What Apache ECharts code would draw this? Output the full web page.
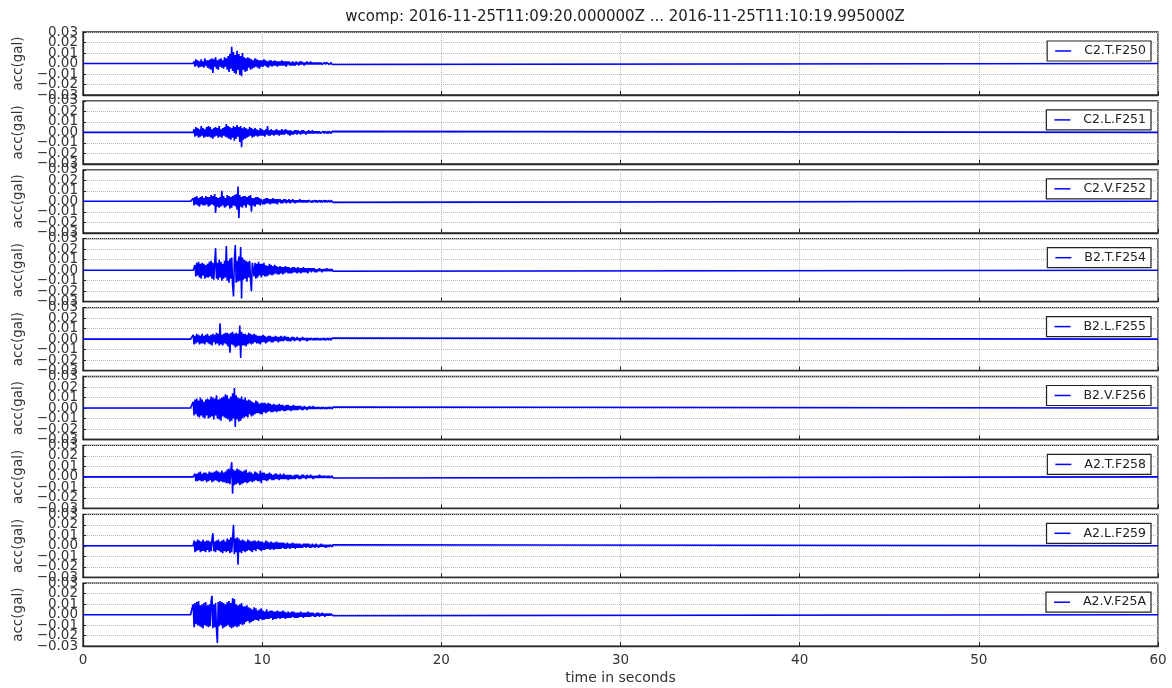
<!DOCTYPE html>
<html>
<head>
<meta charset="utf-8">
<title>wcomp</title>
<script src="https://cdn.jsdelivr.net/npm/echarts@6/dist/echarts.min.js"></script>
<style>
  html, body { margin: 0; padding: 0; background: #fff; }
  #chart { width: 1172px; height: 688px; }
</style>
</head>
<body>
<div id="chart"></div>
<script>
// Station / component labels, one per panel
const channels = ['C2.T.F250', 'C2.L.F251', 'C2.V.F252', 'B2.T.F254', 'B2.L.F255',
                  'B2.V.F256', 'A2.T.F258', 'A2.L.F259', 'A2.V.F25A'];

// Sampled acceleration in 1e-3 gal, sample interval 0.05 s, starting at 6.00 s.
// Before the first sample and after the last one the trace stays at rest.
const sampleStart = 6.0;
const sampleStep = 0.05;
const recordEnd = 60;

const C2_T_F250 = [
  0,0,0,0,2,-3,4,-2,3,-4,2,-3,4,-3,2,-4,5,-2,3,-4,
  3,-5,4,-6,5,-9,4,-3,6,-5,3,-6,4,-3,5,-4,3,-5,6,-3,
  5,-6,7,-8,9,-5,16,-7,11,-9,8,-10,12,-6,9,-11,7,-12,10,-6,
  6,-8,5,-7,6,-4,5,-6,4,-5,3,-4,5,-3,4,-4,3,-5,3,-3,
  3,-3,4,-2,3,-3,2,-4,3,-2,3,-3,2,-2,3,-2,2,-3,2,-2,
  2,-2,3,-2,2,-2,2,-3,2,-1,2,-2,1,-2,2,-2,1,-2,2,-1,
  1,-2,2,-1,2,-1,1,-2,1,-1,2,-1,1,-1,2,-1,1,-1,1,-1,
  1,-1,1,-1,1,-1,1,-1,0,-1,1,-1,1,0,1,-1,0,1,-1,0
];
const C2_L_F251 = [
  0,0,0,0,3,-4,5,-3,4,-5,3,-4,6,-3,4,-5,3,-4,5,-4,
  6,-4,5,-5,3,-6,4,-4,5,-3,4,-5,6,-4,3,-5,4,-3,5,-4,
  8,-5,6,-6,5,-7,4,-5,6,-8,5,-6,7,-4,5,-9,6,-14,4,-7,
  5,-6,4,-5,3,-4,5,-3,4,-5,3,-4,4,-3,3,-4,2,-3,4,-3,
  3,-3,2,-4,3,-2,6,-3,2,-3,3,-2,2,-3,2,-2,3,-2,2,-3,
  2,-2,3,-2,2,-2,3,-1,2,-2,2,-3,2,-2,1,-2,2,-1,2,-2,
  2,-1,1,-2,2,-1,2,-1,1,-2,1,-1,2,-1,1,-1,2,-1,1,-1,
  1,-1,1,-1,1,-1,0,-1,1,-1,1,0,-1,1,-1,1,0,-1,1,0
];
const C2_V_F252 = [
  0,0,0,3,-4,4,-3,5,-4,3,-5,4,-3,5,-4,3,-4,5,-3,4,
  -5,4,-4,6,-3,5,-4,7,-11,4,-5,3,-6,4,-5,10,-4,5,-6,3,
  -5,6,-4,5,-7,4,-6,5,-4,6,-5,7,-8,14,-16,6,-5,4,-6,5,
  -4,5,-6,4,-3,5,-4,6,-10,3,-4,3,-5,4,-3,4,-3,3,-4,2,
  3,-3,2,-3,3,-2,3,-2,2,-3,2,-2,3,-2,2,-2,2,-3,2,-1,
  2,-2,1,-2,2,-1,2,-2,1,-1,2,-2,1,-1,2,-1,1,-2,1,-1,
  1,-1,2,-1,1,-1,1,-1,1,-1,1,-1,1,0,1,-1,1,-1,0,1,
  -1,1,-1,0,1,-1,1,-1,0,1,-1,1,0,-1,1,0,-1,1,0,-1
];
const B2_T_F254 = [
  0,0,0,0,0,5,-6,7,-5,8,-7,6,-8,7,-5,6,-8,5,-7,6,
  -7,8,-6,9,-8,7,-9,6,21,-8,7,-9,10,-7,8,-10,6,-8,9,-7,
  23,-10,9,-12,11,-8,12,-14,-25,10,24,-12,9,-11,13,-10,22,-27,12,-9,
  10,-8,9,-11,8,-7,9,-8,-20,7,8,-6,7,-8,6,-7,8,-5,6,-7,
  6,-5,7,-6,5,-6,4,-5,6,-4,5,-5,4,-4,5,-3,4,-4,3,-4,
  4,-3,3,-4,3,-3,4,-2,3,-3,3,-3,2,-3,3,-2,3,-2,2,-3,
  3,-2,2,-3,2,-2,3,-2,2,-2,2,-3,2,-1,2,-2,2,-1,2,-2,
  1,-2,1,-1,2,-1,1,-2,1,-1,1,-1,2,-1,1,-1,1,-1,1,-1
];
const B2_L_F255 = [
  0,0,0,4,-5,3,-4,5,-3,4,-5,3,-4,5,-4,3,-5,4,-3,5,
  -4,3,-5,4,-6,5,-3,4,-5,6,-4,5,-6,15,-5,4,-6,5,-4,6,
  -5,6,-7,5,-13,6,-5,7,-6,5,-8,6,-7,5,-6,13,-18,7,-6,5,
  -6,5,-7,4,-5,6,-4,5,-5,4,-4,5,-3,4,-4,3,-4,3,-5,3,
  -3,4,-3,3,-4,2,-3,3,-2,3,-3,2,-3,2,-2,3,-2,2,-3,2,
  -2,3,-2,2,-2,3,-1,2,-2,2,-2,1,-2,2,-1,2,-2,1,-1,2,
  -1,1,-2,1,-1,2,-1,1,-1,1,-2,1,-1,1,-1,1,0,-1,1,-1,
  1,-1,1,0,-1,1,-1,0,1,-1,1,-1,0,1,-1,1,0,-1,1,0
];
const B2_V_F256 = [
  0,0,0,6,-7,8,-6,9,-8,7,-9,10,-7,8,-9,6,-10,8,-7,9,
  -10,8,-9,11,-8,10,-11,9,-7,12,-10,8,-11,9,-12,10,-8,11,-9,13,
  -10,12,-11,9,-13,11,-12,14,-10,19,-18,12,-11,10,-13,9,-12,11,-10,8,
  -9,10,-8,7,-9,8,-6,7,-8,6,-7,5,-6,7,-5,6,-5,4,-6,5,
  -6,5,-4,5,-5,4,-4,5,-3,4,-4,3,-4,4,-3,3,-4,3,-3,4,
  -3,3,-2,3,-3,2,-3,3,-2,3,-2,2,-3,2,-2,3,-2,2,-2,2,
  -2,2,-1,2,-2,1,-2,2,-1,1,-2,1,-1,2,-1,1,-1,2,-1,1,
  -1,1,-1,1,0,-1,1,-1,1,0,-1,1,-1,0,1,-1,1,0,-1,1
];
const A2_T_F258 = [
  0,0,0,0,0,3,-4,3,-4,4,-3,5,-4,3,-4,4,-3,4,-5,3,
  -4,5,-3,4,-5,4,-4,5,-3,6,-4,5,-5,4,-4,6,-5,4,-5,5,
  -6,7,-6,8,-7,6,14,-16,7,-8,6,-7,8,-6,7,-8,6,-7,5,-6,
  6,-5,7,-6,4,-5,5,-4,4,-5,3,-4,5,-3,4,-4,3,-4,6,-6,
  4,-3,4,-3,3,-4,3,-3,4,-2,3,-3,2,-3,3,-2,3,-2,2,-3,
  3,-2,2,-2,3,-2,2,-2,2,-3,2,-2,2,-2,1,-2,2,-2,2,-1,
  2,-2,1,-2,2,-1,2,-1,1,-2,2,-1,1,-1,2,-1,1,-2,1,-1,
  1,-1,1,-1,2,-1,1,-1,1,-1,1,0,-1,1,-1,1,-1,0,1,-1
];
const A2_L_F259 = [
  0,0,0,0,5,-6,4,-5,6,-4,5,-6,4,-5,6,-5,4,-6,5,-4,
  5,-6,4,-5,6,12,-5,4,-6,5,-4,6,-5,4,-6,5,-7,6,-5,4,
  -6,7,-5,6,-7,8,-6,7,20,-8,7,-6,8,-18,7,-6,5,-7,6,-5,
  5,-6,4,-5,6,-4,5,-5,4,-6,5,-4,5,-5,4,-3,5,-4,4,-5,
  4,-4,3,-4,5,-3,4,-3,3,-4,4,-3,3,-4,3,-3,4,-3,3,-3,
  3,-3,3,-2,3,-3,2,-3,3,-2,2,-3,2,-2,3,-2,2,-3,2,-2,
  2,-2,2,-2,1,-2,2,-1,2,-2,2,-1,2,-2,1,-2,2,-1,1,-2,
  2,-1,1,-2,1,-1,2,-1,1,-1,1,-2,1,-1,1,-1,1,0,-1,1
];
const A2_V_F25A = [
  0,0,0,10,-12,11,-9,12,-10,13,-11,9,-12,10,-13,11,-10,12,-11,9,
  -12,10,-11,13,18,-13,10,-12,11,-14,-27,12,-11,13,-10,12,-13,11,-12,10,
  -11,12,-10,13,-12,11,-13,16,-12,15,-11,10,-12,9,-11,10,-9,11,-10,8,
  -9,8,-7,9,-6,7,-8,6,-7,5,-6,7,-5,6,-5,4,-6,5,-4,6,
  -5,4,-5,3,-4,5,-4,3,-4,4,-3,4,-5,3,-4,3,-4,4,-3,3,
  -4,3,-3,4,-3,3,-4,2,-3,3,-3,2,-3,3,-2,3,-3,2,-3,2,
  -3,2,-2,3,-2,2,-3,2,-2,2,-2,3,-2,2,-2,2,-1,2,-2,1,
  -2,2,-1,2,-2,1,-1,2,-1,1,-2,1,-1,1,-1,1,-1,1,0,-1
];

const traces = [C2_T_F250, C2_L_F251, C2_V_F252, B2_T_F254, B2_L_F255,
                B2_V_F256, A2_T_F258, A2_L_F259, A2_V_F25A];

// Axis ticks
const yTicks = { min: -0.03, max: 0.03, step: 0.01 };
const xTicks = { min: 0, max: 60, step: 10 };

const titleText = 'wcomp: 2016-11-25T11:09:20.000000Z ... 2016-11-25T11:10:19.995000Z';

// Panel geometry
const plotLeft = 83, plotRight = 14;
const firstTop = 32, panelHeight = 63, panelPitch = 68.9;
const FONT = 'DejaVu Sans';
const TRACE_COLOR = '#0000ff';

function toPairs(samples) {
  const pts = [[0, 0]];
  samples.forEach((v, i) => {
    const t = +(sampleStart + i * sampleStep).toFixed(2);
    pts.push([t, v / 1000]);
  });
  pts.push([recordEnd, 0]);
  return pts;
}

function fmtY(v) {
  if (Math.abs(v) < 1e-9) return '0.00';
  return (v < 0 ? '\u2212' : '') + Math.abs(v).toFixed(2);
}
// The tick labels crowd each other, so they are split over two stacked
// left axes: one carries the odd hundredths, the other the even ones.
const isOddStep = v => Math.round(Math.abs(v) * 100) % 2 === 1;
const fmtOdd = v => (isOddStep(v) ? fmtY(v) : '');
const fmtEven = v => (isOddStep(v) ? '' : fmtY(v));

const grids = [], xAxes = [], yAxes = [], series = [], legends = [];
const last = channels.length - 1;

const yLabelStyle = {
  margin: 5, fontFamily: FONT, fontSize: 13.5, color: '#333',
  showMinLabel: true, showMaxLabel: true, hideOverlap: false
};

channels.forEach((name, i) => {
  const top = firstTop + i * panelPitch;
  grids.push({
    left: plotLeft, right: plotRight, top: top, height: panelHeight,
    show: true, borderColor: '#2a2a2a', borderWidth: 1.3, backgroundColor: '#fff'
  });
  xAxes.push({
    type: 'value', gridIndex: i,
    min: xTicks.min, max: xTicks.max, interval: xTicks.step,
    axisLine: { show: true, onZero: false, lineStyle: { color: '#2a2a2a', width: 1.3 } },
    axisTick: { show: true, inside: true, length: 4, lineStyle: { color: '#222' } },
    axisLabel: {
      show: i === last, margin: 7, fontFamily: FONT, fontSize: 13.5, color: '#333'
    },
    splitLine: { show: true, lineStyle: { color: '#b8b8b8', type: 'dotted', width: 1 } },
    name: i === last ? 'time in seconds' : '',
    nameLocation: 'middle', nameGap: 25,
    nameTextStyle: { fontFamily: FONT, fontSize: 14, color: '#333' }
  });
  yAxes.push({
    type: 'value', gridIndex: i, position: 'left',
    min: yTicks.min, max: yTicks.max, interval: yTicks.step,
    axisLine: { show: true, onZero: false, lineStyle: { color: '#2a2a2a', width: 1.3 } },
    axisTick: { show: true, inside: true, length: 3, lineStyle: { color: '#222' } },
    axisLabel: Object.assign({ formatter: fmtEven }, yLabelStyle),
    splitLine: { show: true, lineStyle: { color: '#b8b8b8', type: 'dotted', width: 1 } },
    name: 'acc(gal)', nameLocation: 'middle', nameRotate: 90, nameGap: 52,
    nameTextStyle: { fontFamily: FONT, fontSize: 13.5, color: '#333' }
  });
  yAxes.push({
    type: 'value', gridIndex: i, position: 'left', offset: 0,
    min: yTicks.min, max: yTicks.max, interval: yTicks.step,
    axisLine: { show: false }, axisTick: { show: false }, splitLine: { show: false },
    axisLabel: Object.assign({ formatter: fmtOdd }, yLabelStyle)
  });
  series.push({
    name: name, type: 'line', xAxisIndex: i, yAxisIndex: 2 * i,
    data: toPairs(traces[i]),
    showSymbol: false, symbol: 'none', sampling: 'none',
    lineStyle: { color: TRACE_COLOR, width: 1.6 },
    itemStyle: { color: TRACE_COLOR },
    silent: true
  });
  legends.push({
    data: [name], top: top + 9, right: 21,
    icon: 'rect', itemWidth: 16, itemHeight: 1.5, itemGap: 0,
    backgroundColor: '#fff', borderColor: '#222', borderWidth: 1.2, borderRadius: 0,
    padding: [3, 5, 3, 8],
    textStyle: {
      fontFamily: FONT, fontSize: 12.5, lineHeight: 14, color: '#222',
      padding: [0, 0, 0, 8]
    },
    selectedMode: false
  });
});

const chart = echarts.init(document.getElementById('chart'), null, { renderer: 'canvas' });
chart.setOption({
  animation: false,
  backgroundColor: '#fff',
  title: {
    text: titleText, left: 620, top: 5, textAlign: 'center',
    textStyle: { fontFamily: FONT, fontSize: 15, fontWeight: 'normal', color: '#222' }
  },
  grid: grids,
  xAxis: xAxes,
  yAxis: yAxes,
  legend: legends,
  series: series
});
</script>
</body>
</html>
